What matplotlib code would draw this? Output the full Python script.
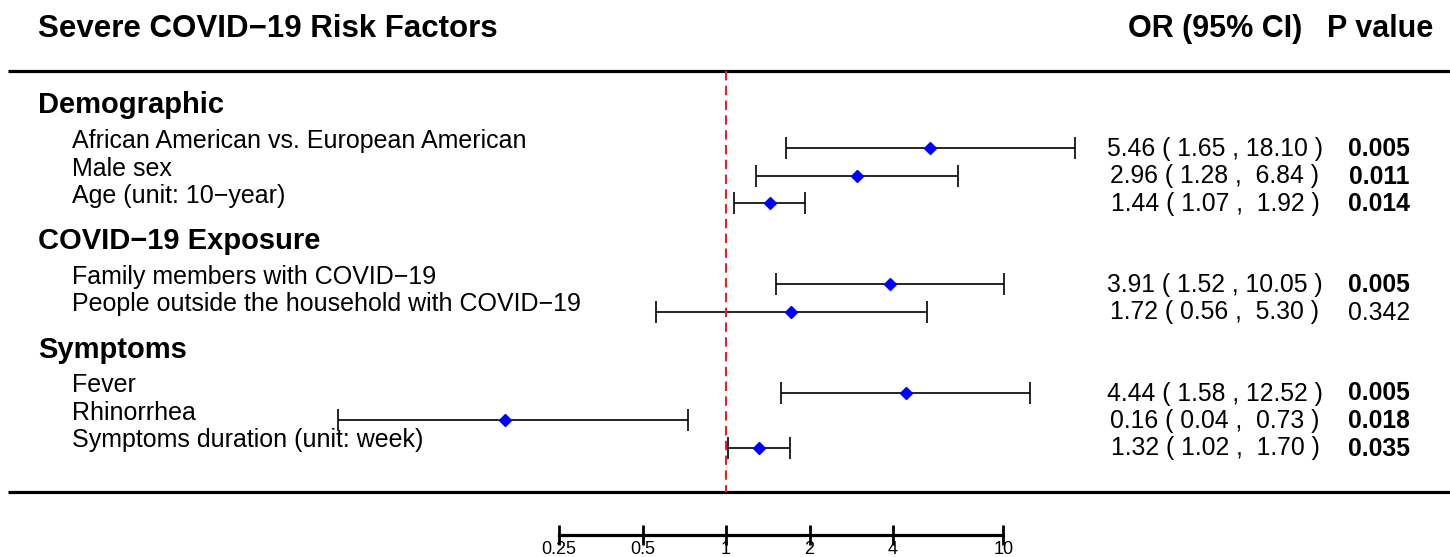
import numpy as np
import matplotlib
matplotlib.use("Agg")
import matplotlib.pyplot as plt

plt.rcParams['font.family'] = ['Liberation Sans', 'DejaVu Sans']

# data
groups = ["Demographic", "COVID\u221219 Exposure", "Symptoms"]
group_sizes = [3, 2, 3]
labels = ["African American vs. European American",
          "Male sex",
          "Age (unit: 10\u2212year)",
          "Family members with COVID\u221219",
          "People outside the household with COVID\u221219",
          "Fever",
          "Rhinorrhea",
          "Symptoms duration (unit: week)"]
odds = [5.46, 2.96, 1.44, 3.91, 1.72, 4.44, 0.16, 1.32]
lower = [1.65, 1.28, 1.07, 1.52, 0.56, 1.58, 0.04, 1.02]
upper = [18.10, 6.84, 1.92, 10.05, 5.30, 12.52, 0.73, 1.70]
pvals = [0.005, 0.011, 0.014, 0.005, 0.342, 0.005, 0.018, 0.035]
ticks = [0.25, 0.5, 1, 2, 4, 10]
tick_labels = ["0.25", "0.5", "1", "2", "4", "10"]

W, H = 1450, 557
fig = plt.figure(figsize=(W / 100, H / 100), dpi=100)

# layout (pixel units, y down)
row_y = []
y = 148
for g, n in enumerate(group_sizes):
    for i in range(n):
        row_y.append(y)
        y += 27.5
    y += 81 - 27.5
row_y = np.array(row_y)
first_rows = np.cumsum([0] + group_sizes[:-1])

bg = fig.add_axes([0, 0, 1, 1])
bg.set_xlim(0, W)
bg.set_ylim(H, 0)
bg.axis("off")

bg.text(38, 37, "Severe COVID\u221219 Risk Factors", fontsize=22.5, fontweight="bold", va="baseline")
bg.text(1215, 37, "OR (95% CI)", fontsize=22, fontweight="bold", va="baseline", ha="center")
bg.text(1380, 37, "P value", fontsize=22, fontweight="bold", va="baseline", ha="center")
bg.hlines([71, 492], 8, W, color="black", lw=2.3)

for g, idx in zip(groups, first_rows):
    bg.text(38, row_y[idx] - 35, g, fontsize=21, fontweight="bold", va="baseline")

for lab, yy, o, lo, hi, p in zip(labels, row_y, odds, lower, upper, pvals):
    bg.text(72, yy, lab, fontsize=18, va="baseline")
    bg.text(1215, yy + 8, "%.2f ( %.2f , %5.2f )" % (o, lo, hi), fontsize=17.8,
            va="baseline", ha="center")
    bg.text(1379, yy + 8, "%.3f" % p, fontsize=17.8, va="baseline", ha="center",
            fontweight="bold" if p < 0.05 else "normal")

# forest part
px_per_dec = 83.5 / np.log10(2)
x0, x1 = 300, 1100
xmin = 10 ** ((x0 - 726) / px_per_dec)
xmax = 10 ** ((x1 - 726) / px_per_dec)
axis_y = 535
ax = fig.add_axes([x0 / W, (H - axis_y) / H, (x1 - x0) / W, axis_y / H])
ax.set_facecolor("none")
ax.set_xscale("log")
ax.set_xlim(xmin, xmax)
ax.set_ylim(axis_y, 0)

odds_a = np.array(odds)
ax.errorbar(odds_a, row_y, xerr=[odds_a - np.array(lower), np.array(upper) - odds_a],
            fmt="none", ecolor="black", elinewidth=1.2, capsize=8, capthick=1.2)
ax.plot(odds_a, row_y, "D", color="blue", ms=6.5, ls="none", zorder=5)
ax.vlines(1, 71, 492, colors="#e8202a", lw=1.5, linestyles=(0, (4.5, 2.6)))

for s in ["top", "left", "right"]:
    ax.spines[s].set_visible(False)
ax.spines["bottom"].set_bounds(0.25, 10)
ax.spines["bottom"].set_linewidth(2.3)
ax.set_yticks([])
ax.set_xticks(ticks)
ax.set_xticklabels(tick_labels, fontsize=13)
ax.xaxis.set_minor_locator(matplotlib.ticker.NullLocator())
ax.tick_params(axis="x", direction="inout", length=15, width=2, pad=-3)

fig.savefig("out.png", dpi=100)
